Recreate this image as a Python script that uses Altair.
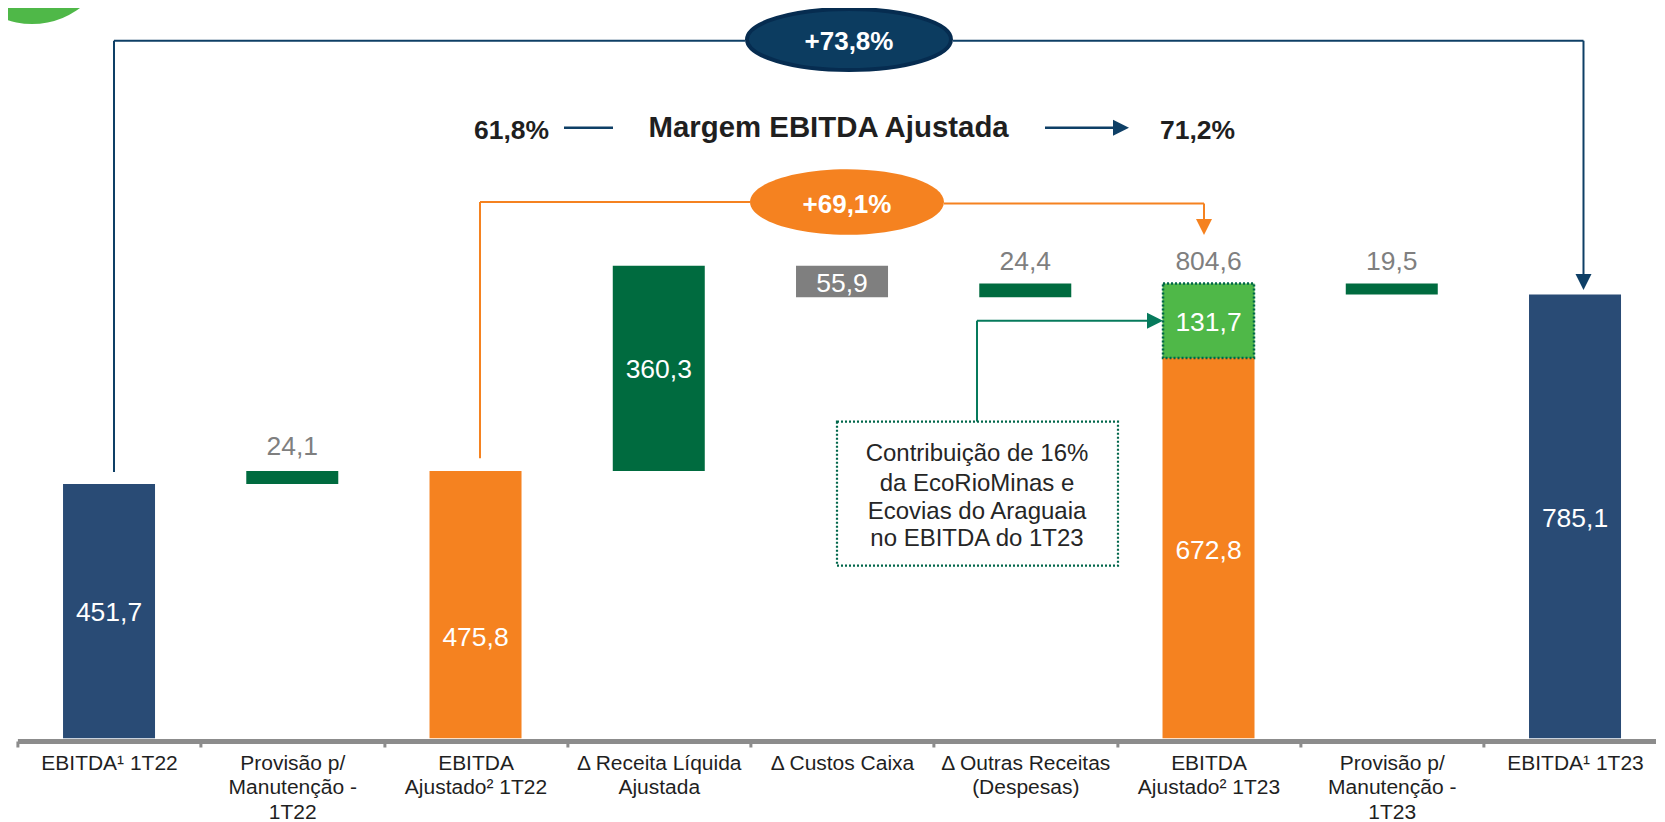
import altair as alt
import pandas as pd

categories = ["EBITDA¹ 1T22", "Provisão p/|Manutenção -|1T22", "EBITDA|Ajustado² 1T22",
              "Δ Receita Líquida|Ajustada", "Δ Custos Caixa", "Δ Outras Receitas|(Despesas)",
              "EBITDA|Ajustado² 1T23", "Provisão p/|Manutenção -|1T23", "EBITDA¹ 1T23"]

# bar ends
bar_cat = [categories[0], categories[1], categories[2], categories[3], categories[4],
           categories[5], categories[6], categories[6], categories[7], categories[8]]
bar_low = [0, 449.9, 0, 473.1, 780.2, 780.2, 0, 672.8, 785.1, 0]
bar_high = [450.1, 473.1, 473.1, 836.1, 836.1, 804.6, 672.8, 804.6, 804.6, 785.1]
bar_kind = ["azul", "verde", "laranja", "verde", "cinza", "verde", "laranja", "claro", "verde", "azul"]

inner_cat = [categories[0], categories[3], categories[4], categories[6], categories[6], categories[8]]
inner_low = [0, 475.8, 780.2, 0, 672.8, 0]
inner_high = [451.7, 836.1, 836.1, 672.8, 804.6, 785.1]
inner_txt = ["451,7", "360,3", "55,9", "672,8", "131,7", "785,1"]

top_cat = [categories[1], categories[5], categories[6], categories[7]]
top_val = [475.8, 804.6, 804.6, 804.6]
top_txt = ["24,1", "24,4", "804,6", "19,5"]

FONT = "Liberation Sans"
NAVY = "#0e3f66"
ORANGE = "#f58220"
TEAL = "#067a5c"
DARK = "#1f1f1f"

bars = pd.DataFrame({"cat": bar_cat, "low": bar_low, "high": bar_high, "kind": bar_kind})
inner = pd.DataFrame({"cat": inner_cat, "low": inner_low, "high": inner_high, "txt": inner_txt})
inner["mid"] = (inner["low"] + inner["high"]) / 2
tops = pd.DataFrame({"cat": top_cat, "val": top_val, "txt": top_txt})

ORIGIN_X, ORIGIN_Y = 17.4, 8
def X(v): return alt.value(v - ORIGIN_X)
def Y(v): return alt.value(v - ORIGIN_Y)
one = alt.Data(values=[{}])

x_scale = alt.Scale(domain=categories, range=[0, 1649.25], paddingInner=0, paddingOuter=0)
y_scale = alt.Scale(domain=[0, 1292], nice=False)

x_axis = alt.Axis(title=None, labelAngle=0, labelExpr="split(datum.label,'|')",
                  labelFont=FONT, labelFontSize=21, labelColor=DARK, labelLineHeight=24.3,
                  labelPadding=5.5, labelLimit=0, labelOverlap=False, labelFlush=False,
                  domainColor="#8c8c8c", domainWidth=5, tickColor="#8c8c8c", tickWidth=3,
                  tickSize=6, tickBand="extent", offset=2.7, grid=False)

def seg(x1, y1, x2, y2, color, w=2):
    return alt.Chart(one).mark_rule(color=color, strokeWidth=w).encode(
        x=X(x1), x2=X(x2), y=Y(y1), y2=Y(y2))

def head(px, py, path, color, side=16):
    return alt.Chart(one).mark_point(shape=path, filled=True, color=color, opacity=1,
                                     size=side * side, strokeWidth=0).encode(x=X(px), y=Y(py))

def ellipse(cx, cy, w, h, fill, stroke=None):
    path = f"M-1,0A1,{h/w:.4f} 0 1,1 1,0A1,{h/w:.4f} 0 1,1 -1,0Z"
    kw = dict(stroke=stroke, strokeWidth=4) if stroke else dict(strokeWidth=0)
    return alt.Chart(one).mark_point(shape=path, filled=True, fill=fill, opacity=1,
                                     size=w * w, **kw).encode(x=X(cx), y=Y(cy))

def label(txt, cx, cy, size, color, bold=False, align="center"):
    return alt.Chart(alt.Data(values=[{"t": txt}])).mark_text(
        font=FONT, fontSize=size, color=color, fontWeight="bold" if bold else "normal",
        align=align, baseline="alphabetic").encode(text="t:N", x=X(cx), y=Y(cy))

DOWN = "M-1,-1L1,-1L0,1Z"
RIGHT = "M-1,-1L1,0L-1,1Z"

bar_layer = alt.Chart(bars).mark_bar(width=92).encode(
    x=alt.X("cat:N", scale=x_scale, axis=x_axis, sort=None),
    y=alt.Y("low:Q", scale=y_scale, axis=None),
    y2="high:Q",
    color=alt.Color("kind:N", legend=None, scale=alt.Scale(
        domain=["azul", "verde", "laranja", "cinza", "claro"],
        range=["#294b75", "#006b3f", ORANGE, "#7f7f7f", "#4fb848"])),
)

dotted = alt.Chart(bars[bars.kind == "claro"]).mark_bar(
    width=91, fillOpacity=0, stroke="#00664a", strokeWidth=2.5, strokeDash=[2, 2]).encode(
    x=alt.X("cat:N", scale=x_scale, sort=None),
    y=alt.Y("low:Q", scale=y_scale), y2="high:Q")

inner_layer = alt.Chart(inner).mark_text(font=FONT, fontSize=26.5, color="white", baseline="middle", dy=2.5).encode(
    x=alt.X("cat:N", scale=x_scale, sort=None),
    y=alt.Y("mid:Q", scale=y_scale), text="txt:N")

adjusted = alt.Chart(pd.DataFrame({"cat": [categories[2]], "val": [475.8], "txt": ["475,8"]})).mark_text(
    font=FONT, fontSize=26.5, color="white", baseline="middle", dy=34).encode(
    x=alt.X("cat:N", scale=x_scale, sort=None),
    y=alt.Y("mid:Q", scale=y_scale), text="txt:N").transform_calculate(mid="datum.val / 2")

top_layer = alt.Chart(tops).mark_text(font=FONT, fontSize=26.5, color="#7f7f7f", baseline="alphabetic", dy=-14).encode(
    x=alt.X("cat:N", scale=x_scale, sort=None),
    y=alt.Y("val:Q", scale=y_scale), text="txt:N")

badge = alt.Chart(one).mark_point(shape="circle", filled=True, color="#4fb848", opacity=1,
                                  size=25600, strokeWidth=0, clip=False).encode(x=X(32), y=Y(-56))

callout = alt.Chart(one).mark_rect(fill="white", stroke="#00664a", strokeWidth=2.2, strokeDash=[2, 2]).encode(
    x=X(837), x2=X(1118), y=Y(421.7), y2=Y(565.7))

layers = [
    badge, bar_layer, dotted, inner_layer, adjusted, top_layer,
    seg(114, 40.7, 745, 40.7, NAVY), seg(114, 40.7, 114, 472, NAVY),
    seg(953, 40.7, 1583.5, 40.7, NAVY), seg(1583.5, 40.7, 1583.5, 276, NAVY),
    head(1583.5, 282, DOWN, NAVY),
    ellipse(849, 39.5, 204, 61, "#0c3c60", "#062c50"),
    label("+73,8%", 849, 50, 26, "white", True),
    label("61,8%", 474, 139, 26.5, DARK, True, "left"),
    seg(564, 127.7, 613, 127.7, NAVY, 2.5),
    label("Margem EBITDA Ajustada", 648.5, 137, 29.4, DARK, True, "left"),
    seg(1045, 127.7, 1115, 127.7, NAVY, 2.5),
    head(1121, 127.7, RIGHT, NAVY),
    label("71,2%", 1160, 139, 26.5, DARK, True, "left"),
    seg(480, 202, 750, 202, ORANGE), seg(480, 202, 480, 458.3, ORANGE),
    seg(944, 203.5, 1204, 203.5, ORANGE), seg(1204, 203.5, 1204, 222, ORANGE),
    head(1204, 227, DOWN, ORANGE),
    ellipse(847, 202, 194, 65.6, ORANGE),
    label("+69,1%", 847, 213, 26, "white", True),
    seg(977, 320.7, 977, 421.7, TEAL), seg(977, 320.7, 1149, 320.7, TEAL),
    head(1155, 320.7, RIGHT, TEAL),
    callout,
    label("Contribuição de 16%", 977, 461.5, 24, "#262626"),
    label("da EcoRioMinas e", 977, 491, 24, "#262626"),
    label("Ecovias do Araguaia", 977, 519, 24, "#262626"),
    label("no EBITDA do 1T23", 977, 546.5, 24, "#262626"),
]

chart = alt.layer(*layers).properties(
    width=1639, height=730.3,
    autosize=alt.AutoSizeParams(type="none"),
    padding={"left": 9.4, "top": 0, "right": 0, "bottom": 83.5},
).configure_view(stroke=None)

chart.save("out.html", embed_options={"renderer": "svg", "actions": False})
